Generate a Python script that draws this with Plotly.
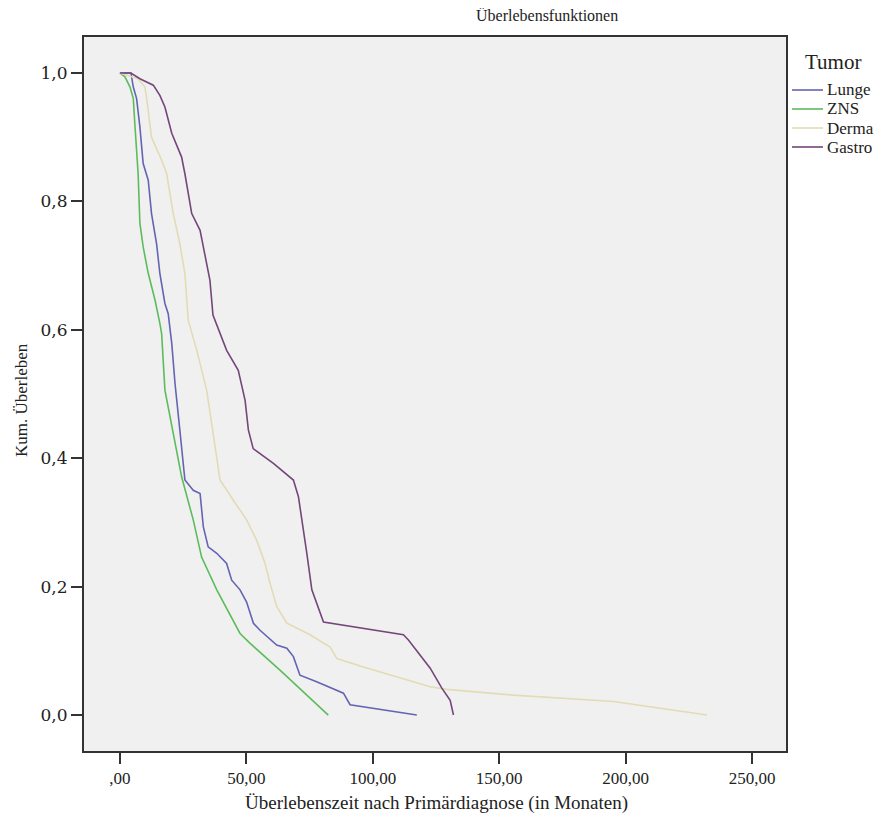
import plotly.graph_objects as go

# ---- data ----
lunge_x = [0, 4.35, 5.3, 6.6, 7.9, 9.2, 11.2, 12.5, 14.5, 15.8, 17.8, 19.1, 20.5, 21.8, 23.7, 25.7,
           29.0, 31.7, 33.0, 34.9, 38.3, 42.2, 44.2, 47.5, 50.1, 52.8, 55.4, 62.0, 66.0, 68.6, 71.2,
           77.8, 88.4, 91.0, 117.4]
lunge_y = [1.0, 1.0, 0.978, 0.960, 0.916, 0.859, 0.833, 0.781, 0.734, 0.688, 0.641, 0.625, 0.579, 0.516,
           0.444, 0.366, 0.350, 0.345, 0.293, 0.262, 0.252, 0.236, 0.210, 0.195, 0.176, 0.143, 0.132,
           0.109, 0.104, 0.091, 0.062, 0.052, 0.034, 0.016, 0.0]

zns_x = [0, 2.0, 4.0, 5.3, 5.9, 7.2, 7.9, 9.2, 11.2, 13.9, 15.8, 16.5, 17.8, 21.1, 24.4, 29.0, 32.3,
         38.3, 47.5, 51.4, 63.3, 82.4]
zns_y = [1.0, 0.994, 0.978, 0.960, 0.921, 0.843, 0.766, 0.729, 0.688, 0.646, 0.610, 0.594, 0.506, 0.439,
         0.371, 0.304, 0.246, 0.195, 0.127, 0.112, 0.070, 0.0]

derma_x = [0, 7.1, 9.9, 10.6, 12.5, 16.5, 18.5, 21.1, 23.7, 25.7, 27.0, 30.4, 34.3, 36.3, 39.6, 44.8,
           50.1, 54.1, 57.4, 59.4, 62.0, 66.0, 75.2, 83.1, 85.8, 96.3, 109.5, 122.7, 129.3, 155.6,
           195.2, 215.0, 232.2]
derma_y = [1.0, 0.991, 0.978, 0.960, 0.900, 0.864, 0.843, 0.781, 0.734, 0.688, 0.615, 0.568, 0.506,
           0.454, 0.366, 0.335, 0.304, 0.272, 0.236, 0.205, 0.169, 0.143, 0.125, 0.106, 0.088, 0.075,
           0.060, 0.044, 0.040, 0.031, 0.021, 0.010, 0.0]

gastro_x = [0, 4.35, 7.9, 13.2, 15.8, 17.8, 20.5, 24.4, 25.7, 28.4, 31.7, 33.6, 35.6, 36.8, 42.2, 46.8,
            49.5, 50.8, 52.7, 60.7, 68.6, 70.6, 72.5, 73.9, 75.9, 80.5, 112.1, 114.1, 122.7, 127.3,
            130.6, 131.9]
gastro_y = [1.0, 1.0, 0.991, 0.981, 0.965, 0.947, 0.906, 0.869, 0.843, 0.781, 0.755, 0.719, 0.677,
            0.623, 0.568, 0.537, 0.490, 0.444, 0.415, 0.392, 0.366, 0.340, 0.293, 0.252, 0.195, 0.145,
            0.125, 0.117, 0.073, 0.042, 0.023, 0.0]

series_names = ["Lunge", "ZNS", "Derma", "Gastro"]
series_colors = ["#6464b4", "#5cbc5c", "#e2dbb4", "#74467a"]

x_tickvals = [0, 50, 100, 150, 200, 250]
x_ticktext = [",00", "50,00", "100,00", "150,00", "200,00", "250,00"]
y_tickvals = [0.0, 0.2, 0.4, 0.6, 0.8, 1.0]
y_ticktext = ["0,0", "0,2", "0,4", "0,6", "0,8", "1,0"]

FONT = "Liberation Serif"
TXT = "#222"

# page geometry (the page body has an 8px margin)
W, H = 875, 812
ML, MR, MT, MB = 76, 97, 29, 69
PW = W - ML - MR          # plot width in px
PH = H - MT - MB          # plot height in px
X0_PAGE, Y1_PAGE = 8 + ML, 8 + MT + PH   # page coords of plot left / bottom


def px(xpage):
    return (xpage - X0_PAGE) / PW


def py(ypage):
    return (Y1_PAGE - ypage) / PH


fig = go.Figure()
for name, xs, ys, col in zip(series_names,
                             [lunge_x, zns_x, derma_x, gastro_x],
                             [lunge_y, zns_y, derma_y, gastro_y],
                             series_colors):
    fig.add_trace(go.Scatter(x=xs, y=ys, mode="lines", name=name, showlegend=False,
                             line=dict(color=col, width=1.6)))

# custom legend (SPSS style)
shapes = []
annotations = [
    dict(text="Überlebensfunktionen", xref="paper", yref="paper",
         x=px(547), y=py(15), xanchor="center", yanchor="middle",
         showarrow=False, font=dict(size=16, family=FONT, color=TXT)),
    dict(text="Überlebenszeit nach Primärdiagnose (in Monaten)", xref="paper", yref="paper",
         x=px(437), y=py(803), xanchor="center", yanchor="middle",
         showarrow=False, font=dict(size=19, family=FONT, color=TXT)),
    dict(text="Kum. Überleben", xref="paper", yref="paper", textangle=-90,
         x=px(21), y=py(400), xanchor="center", yanchor="middle",
         showarrow=False, font=dict(size=17, family=FONT, color=TXT)),
    dict(text="Tumor", xref="paper", yref="paper",
         x=px(803), y=py(62), xanchor="left", yanchor="middle",
         showarrow=False, font=dict(size=21, family=FONT, color=TXT)),
]
row_y = [90, 109, 128, 147]
for name, col, ry in zip(series_names, series_colors, row_y):
    shapes.append(dict(type="line", xref="paper", yref="paper",
                       x0=px(792), x1=px(823), y0=py(ry), y1=py(ry),
                       line=dict(color=col, width=1.6)))
    annotations.append(dict(text=name, xref="paper", yref="paper",
                            x=px(825), y=py(ry), xanchor="left", yanchor="middle",
                            showarrow=False, font=dict(size=17, family=FONT, color=TXT)))

fig.update_layout(
    width=W, height=H,
    margin=dict(l=ML, r=MR, t=MT, b=MB),
    paper_bgcolor="white",
    plot_bgcolor="#f0f0f0",
    font=dict(family=FONT, color=TXT, size=16),
    showlegend=False,
    shapes=shapes,
    annotations=annotations,
)

fig.update_xaxes(
    range=[-14.2, 263.4], tickvals=x_tickvals, ticktext=x_ticktext,
    showgrid=False, zeroline=False,
    showline=True, mirror=True, linecolor="#333", linewidth=2,
    ticks="outside", ticklen=11, tickwidth=2, tickcolor="#333",
    tickfont=dict(size=17, family=FONT, color=TXT),
)
fig.update_yaxes(
    range=[-0.056, 1.056], tickvals=y_tickvals, ticktext=y_ticktext,
    showgrid=False, zeroline=False,
    showline=True, mirror=True, linecolor="#333", linewidth=2,
    ticks="outside", ticklen=11, tickwidth=2, tickcolor="#333",
    tickfont=dict(size=17, family="DejaVu Serif", color=TXT),
)

fig.write_html("out.html")
